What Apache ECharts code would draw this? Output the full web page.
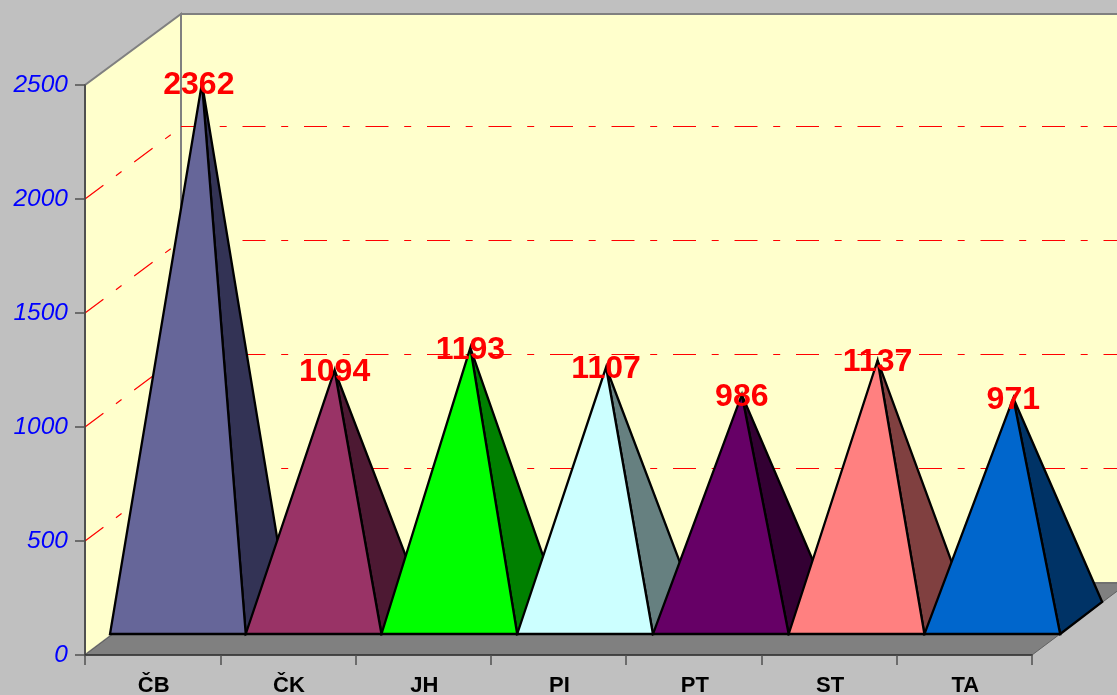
<!DOCTYPE html>
<html>
<head>
<meta charset="utf-8">
<style>html,body{margin:0;padding:0;background:#C0C0C0}#c{width:1117px;height:695px}</style>
<script src="https://cdn.jsdelivr.net/npm/echarts@6/dist/echarts.min.js"></script>
</head>
<body>
<div id="c"></div>
<script>
const categories = ['ČB','ČK','JH','PI','PT','ST','TA'];
const values = [2362,1094,1193,1107,986,1137,971];
const gridValues = [500,1000,1500,2000];
const frontColors = ['#666699','#993366','#00FF00','#CCFFFF','#660066','#FF8080','#0066CC'];
const sideColors  = ['#333355','#4D1933','#008000','#668080','#330033','#804040','#003366'];

const WALL_DX = 96, WALL_TOP_DY = -71, WALL_DY = -72;  // depth of the box
const GRID_DY = -72.5;                    // back-wall gridline offset
const BASE_DX = 25, BASE_DY = -21;        // front edge of a pyramid base from the axis
const BASE_STEP = 0.45;                   // slight widening of the bases
const PYR_DX = 42, PYR_DY = -32;          // base depth of a pyramid
const HEIGHT_K = 0.9934;                  // foreshortening of heights
const LEAN_FROM = 300, LEAN_K = 0.013;    // very tall pyramids lean right slightly
const FONT = '"Liberation Sans", Arial, sans-serif';

const chart = echarts.init(document.getElementById('c'), null, {renderer:'canvas'});

function poly(points, fill, stroke, lw){
  return {type:'polygon', shape:{points}, style:{fill, stroke, lineWidth:lw, lineJoin:'miter', miterLimit:6}};
}

function apexOf(api, i, v){
  const band = api.size([1,0])[0];
  const c = api.coord([i,0]);
  const h = c[1]-api.coord([i,v])[1];
  const left = c[0]-band/2+BASE_DX+i*BASE_STEP;
  const y0 = c[1]+BASE_DY;
  const w = band+BASE_STEP;
  const cx = left+w/2+PYR_DX/2;
  return {left, right:left+w, y0, cx, ax:cx+Math.max(0,h-LEAN_FROM)*LEAN_K, ay:y0+PYR_DY/2-h*HEIGHT_K};
}

chart.setOption({
  animation:false,
  backgroundColor:'#C0C0C0',
  tooltip:{show:false},
  grid:{left:85,right:85,top:85,bottom:40,containLabel:false,outerBoundsMode:'none'},
  xAxis:{type:'category',data:categories,z:10,
    boundaryGap:true,
    axisLine:{show:true,lineStyle:{color:'#303030',width:1.5}},
    axisTick:{show:true,length:10,alignWithLabel:false,lineStyle:{color:'#505050',width:1.5}},
    axisLabel:{color:'#000',fontFamily:FONT,fontWeight:'bold',fontSize:22,margin:20,padding:[0,0,0,2]},
    splitLine:{show:false}},
  yAxis:{type:'value',min:0,max:2500,interval:500,z:10,
    axisLine:{show:true,lineStyle:{color:'#404040',width:1.5}},
    axisTick:{show:true,length:10,lineStyle:{color:'#505050',width:1.5}},
    axisLabel:{color:'#0000FF',fontFamily:FONT,fontStyle:'italic',fontSize:24.5,margin:17,padding:[2,0,0,0],
      formatter:v=>String(v)},
    splitLine:{show:false}},
  series:[
    {type:'custom',z:1,clip:false,silent:true,data:[[0]],
      renderItem(p,api){
        const o=api.coord([0,0]), band=api.size([1,0])[0];
        const x0=o[0]-band/2, y0=o[1], yT=api.coord([0,2500])[1], x1=x0+band*categories.length;
        const G='#808080';
        return {type:'group',children:[
          poly([[x0+WALL_DX,yT+WALL_TOP_DY],[x1+WALL_DX,yT+WALL_TOP_DY],[x1+WALL_DX,y0+WALL_DY],[x0+WALL_DX,y0+WALL_DY]],'#FFFFCC',G,2),
          poly([[x0,y0],[x0,yT],[x0+WALL_DX,yT+WALL_TOP_DY],[x0+WALL_DX,y0+WALL_DY]],'#FFFFCC',G,2),
          poly([[x0,y0],[x1,y0],[x1+WALL_DX,y0+WALL_DY],[x0+WALL_DX,y0+WALL_DY]],'#808080','#606060',1)
        ]};
      }},
    {type:'custom',z:2,clip:false,silent:true,data:gridValues.map(v=>[0,v]),
      renderItem(p,api){
        const v=api.value(1), o=api.coord([0,v]), band=api.size([1,0])[0];
        const x0=o[0]-band/2, y=o[1], x1=x0+band*categories.length;
        const st={stroke:'#FF0000',lineWidth:1.2,lineDash:[23,15.7,7,15.8]};
        const yB=y+GRID_DY;
        return {type:'group',children:[
          {type:'line',shape:{x1:x0,y1:y,x2:x0+WALL_DX,y2:y+WALL_DY},style:st},
          {type:'line',shape:{x1:x0+WALL_DX,y1:yB,x2:x1+WALL_DX,y2:yB},style:{stroke:'#FF0000',lineWidth:1,lineDash:st.lineDash}}
        ]};
      }},
    {type:'custom',z:3,clip:false,silent:true,data:values.map((v,i)=>[i,v]),
      renderItem(p,api){
        const i=api.value(0), a=apexOf(api,i,api.value(1));
        const K='#000', lw=2.3;
        return {type:'group',children:[
          poly([[a.right,a.y0],[a.right+PYR_DX,a.y0+PYR_DY],[a.ax,a.ay]],sideColors[i],K,lw),
          poly([[a.left,a.y0],[a.right,a.y0],[a.ax,a.ay]],frontColors[i],K,lw)
        ]};
      }},
    {type:'custom',z:4,clip:false,silent:true,data:values.map((v,i)=>[i,v]),
      renderItem(p,api){
        const i=api.value(0), v=api.value(1), a=apexOf(api,i,v);
        return {type:'text',style:{text:String(v),x:a.cx,y:a.ay+2,fill:'#FF0000',
          font:'bold 32px '+FONT,textAlign:'center',textVerticalAlign:'middle'}};
      }}
  ]
});
</script>
</body>
</html>
